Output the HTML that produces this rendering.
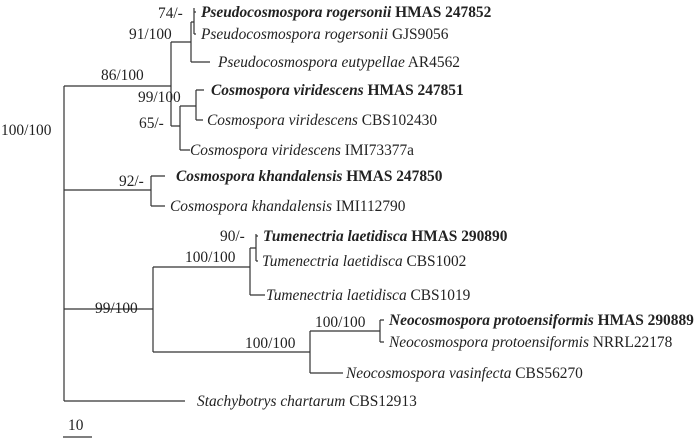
<!DOCTYPE html><html><head><style>
body{margin:0;background:#fff}
svg text{font-family:"Liberation Serif",serif;font-size:15.4px;fill:#222}
.b{font-weight:bold}
</style></head><body>
<svg width="700" height="439" viewBox="0 0 700 439" xmlns="http://www.w3.org/2000/svg">
<g stroke="#333" stroke-width="1.2" fill="none">
<path d="M64 86V401M64 86H171M64 190H151M64 309H153M64 401H185"/>
<path d="M171 42V126M171 42H191M191 22V62M191 22H194M194 8V34M194 12H196M194 34H196M191 62H210"/>
<path d="M171 126H180M180 106V150M180 106H196M196 90V120M196 90H204M196 120H203M180 150H190"/>
<path d="M151 176V206M151 176H165M151 206H165"/>
<path d="M153 267V352M153 267H250M250 248V295M250 248H256M256 234V261M256 236H258M256 261H258M250 295H265"/>
<path d="M153 352H310M310 331V373M310 331H380M380 320V342M380 320H384M380 342H384M310 373H343"/>
<path d="M63 437H92"/>
</g>
<text x="201" y="17" class="b"><tspan font-style="italic">Pseudocosmospora rogersonii</tspan> HMAS 247852</text>
<text x="201" y="39"><tspan font-style="italic">Pseudocosmospora rogersonii</tspan> GJS9056</text>
<text x="218" y="67"><tspan font-style="italic">Pseudocosmospora eutypellae</tspan> AR4562</text>
<text x="211" y="95" class="b"><tspan font-style="italic">Cosmospora viridescens</tspan> HMAS 247851</text>
<text x="207" y="125"><tspan font-style="italic">Cosmospora viridescens</tspan> CBS102430</text>
<text x="190" y="155"><tspan font-style="italic">Cosmospora viridescens</tspan> IMI73377a</text>
<text x="176" y="181" class="b"><tspan font-style="italic">Cosmospora khandalensis</tspan> HMAS 247850</text>
<text x="170" y="211"><tspan font-style="italic">Cosmospora khandalensis</tspan> IMI112790</text>
<text x="263" y="241" class="b"><tspan font-style="italic">Tumenectria laetidisca</tspan> HMAS 290890</text>
<text x="262" y="266"><tspan font-style="italic">Tumenectria laetidisca</tspan> CBS1002</text>
<text x="266" y="300"><tspan font-style="italic">Tumenectria laetidisca</tspan> CBS1019</text>
<text x="389" y="325" class="b"><tspan font-style="italic">Neocosmospora protoensiformis</tspan> HMAS 290889</text>
<text x="389" y="347"><tspan font-style="italic">Neocosmospora protoensiformis</tspan> NRRL22178</text>
<text x="346" y="378"><tspan font-style="italic">Neocosmospora vasinfecta</tspan> CBS56270</text>
<text x="197" y="406"><tspan font-style="italic">Stachybotrys chartarum</tspan> CBS12913</text>
<text x="158" y="18">74/-</text>
<text x="129" y="39">91/100</text>
<text x="101" y="80">86/100</text>
<text x="138" y="102">99/100</text>
<text x="139" y="128">65/-</text>
<text x="1" y="135">100/100</text>
<text x="119" y="186">92/-</text>
<text x="220" y="241">90/-</text>
<text x="185" y="262">100/100</text>
<text x="95" y="313">99/100</text>
<text x="315" y="327">100/100</text>
<text x="245" y="348">100/100</text>
<text x="68" y="430">10</text>
</svg>
</body></html>
